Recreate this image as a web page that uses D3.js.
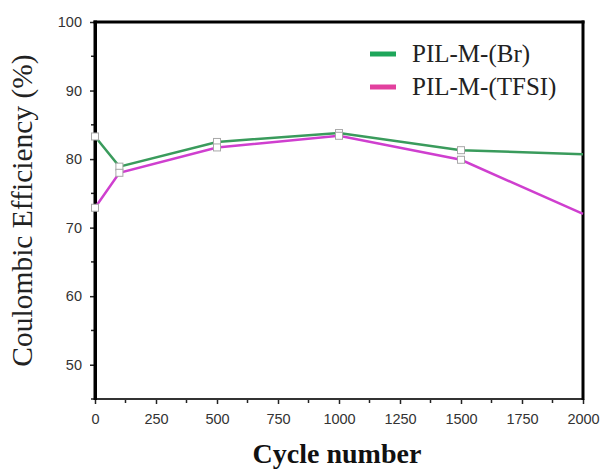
<!DOCTYPE html>
<html>
<head>
<meta charset="utf-8">
<script src="https://cdn.jsdelivr.net/npm/d3@7"></script>
<style>
  body { margin: 0; background: #fff; }
  svg { display: block; }
</style>
</head>
<body>
<div id="chart"></div>
<script>
const cycles = [0, 100, 500, 1000, 1500, 2000]
const brValues = [83.3, 78.9, 82.5, 83.8, 81.3, 80.7]
const tfsiValues = [72.9, 78.0, 81.7, 83.4, 79.9, 72.0]
const seriesNames = ['PIL-M-(Br)', 'PIL-M-(TFSI)']
const lineColors = ['#3a9b5c', '#cf3fcf']
const legendColors = ['#1ea65a', '#e2409e']
const xTicks = [0, 250, 500, 750, 1000, 1250, 1500, 1750, 2000]
const yTicks = [50, 60, 70, 80, 90, 100]

const width = 601
const height = 473
const margin = { top: 22, right: 18, bottom: 74, left: 95 }

const svg = d3.select('#chart').append('svg')
  .attr('width', width)
  .attr('height', height)

const x = d3.scaleLinear().domain([0, 2000]).range([margin.left, width - margin.right])
const y = d3.scaleLinear().domain([45, 100]).range([height - margin.bottom, margin.top])

// x axis: major + minor ticks pointing down
const xAxis = svg.append('g')
  .attr('transform', `translate(0,${y(45)})`)
  .call(d3.axisBottom(x).tickValues(xTicks).tickFormat(d3.format('d')).tickSize(5).tickPadding(10))
xAxis.append('g').selectAll('line')
  .data(d3.range(125, 2000, 250))
  .enter().append('line')
  .attr('x1', d => x(d)).attr('x2', d => x(d))
  .attr('y1', 0).attr('y2', 4)
  .attr('stroke', '#222').attr('stroke-width', 1.5)

// y axis
const yAxis = svg.append('g')
  .attr('transform', `translate(${x(0)},0)`)
  .call(d3.axisLeft(y).tickValues(yTicks).tickSize(5).tickPadding(8))
yAxis.append('g').selectAll('line')
  .data(d3.range(45, 100, 10))
  .enter().append('line')
  .attr('y1', d => y(d)).attr('y2', d => y(d))
  .attr('x1', 0).attr('x2', -4)
  .attr('stroke', '#222').attr('stroke-width', 1.5)

svg.selectAll('.domain').remove()
svg.selectAll('.tick line').attr('stroke', '#222').attr('stroke-width', 1.5)
svg.selectAll('.tick text')
  .attr('font-family', 'Liberation Sans, Arial, sans-serif')
  .attr('font-size', 14.5)
  .attr('fill', '#333')

// frame as filled bars: thin bottom, thick left/top/right
const x0 = x(0)
const x1 = x(2000)
const yTop = y(100)
const yBot = y(45)
const frame = svg.append('g')
frame.append('rect')
  .attr('x', x0).attr('y', yBot - 1).attr('width', x1 - x0).attr('height', 2)
  .attr('fill', '#333')
frame.append('rect')
  .attr('x', x0 - 1.5).attr('y', yTop - 1.5).attr('width', 3.5).attr('height', yBot - yTop + 2.5)
  .attr('fill', '#000')
frame.append('rect')
  .attr('x', x0 - 1.5).attr('y', yTop - 1.5).attr('width', x1 - x0 + 3).attr('height', 3)
  .attr('fill', '#000')
frame.append('rect')
  .attr('x', x1 - 1.5).attr('y', yTop - 1.5).attr('width', 3).attr('height', yBot - yTop + 2.5)
  .attr('fill', '#000')

// series
const series = [brValues, tfsiValues]
const line = d3.line().x((d, i) => x(cycles[i])).y(d => y(d))

series.forEach((vals, k) => {
  svg.append('path')
    .datum(vals)
    .attr('d', line)
    .attr('fill', 'none')
    .attr('stroke', lineColors[k])
    .attr('stroke-width', 2.5)
})

series.forEach((vals, k) => {
  svg.append('g').selectAll('rect')
    .data(vals.slice(0, 5))
    .enter().append('rect')
    .attr('x', (d, i) => x(cycles[i]) - 3.5)
    .attr('y', d => y(d) - 3.5)
    .attr('width', 7)
    .attr('height', 7)
    .attr('fill', '#fff')
    .attr('stroke', '#a8a8a8')
    .attr('stroke-width', 1)
})

// legend
const legend = svg.append('g').attr('transform', 'translate(370,54)')
seriesNames.forEach((name, i) => {
  const row = legend.append('g').attr('transform', `translate(0,${i * 33})`)
  row.append('line')
    .attr('x1', 0).attr('x2', 26)
    .attr('stroke', legendColors[i])
    .attr('stroke-width', 5)
  row.append('text')
    .attr('x', 42).attr('y', 8)
    .attr('font-family', 'Liberation Serif, Times New Roman, serif')
    .attr('font-size', 25)
    .attr('fill', '#222')
    .text(name)
})

// axis titles
svg.append('text')
  .attr('transform', `translate(32,${(y(45) + y(100)) / 2}) rotate(-90)`)
  .attr('text-anchor', 'middle')
  .attr('font-family', 'Liberation Serif, Times New Roman, serif')
  .attr('font-size', 29.5)
  .attr('fill', '#222')
  .text('Coulombic Efficiency (%)')

svg.append('text')
  .attr('x', 337)
  .attr('y', 463)
  .attr('text-anchor', 'middle')
  .attr('font-family', 'Liberation Serif, Times New Roman, serif')
  .attr('font-weight', 'bold')
  .attr('font-size', 28)
  .attr('fill', '#111')
  .text('Cycle number')
</script>
</body>
</html>
